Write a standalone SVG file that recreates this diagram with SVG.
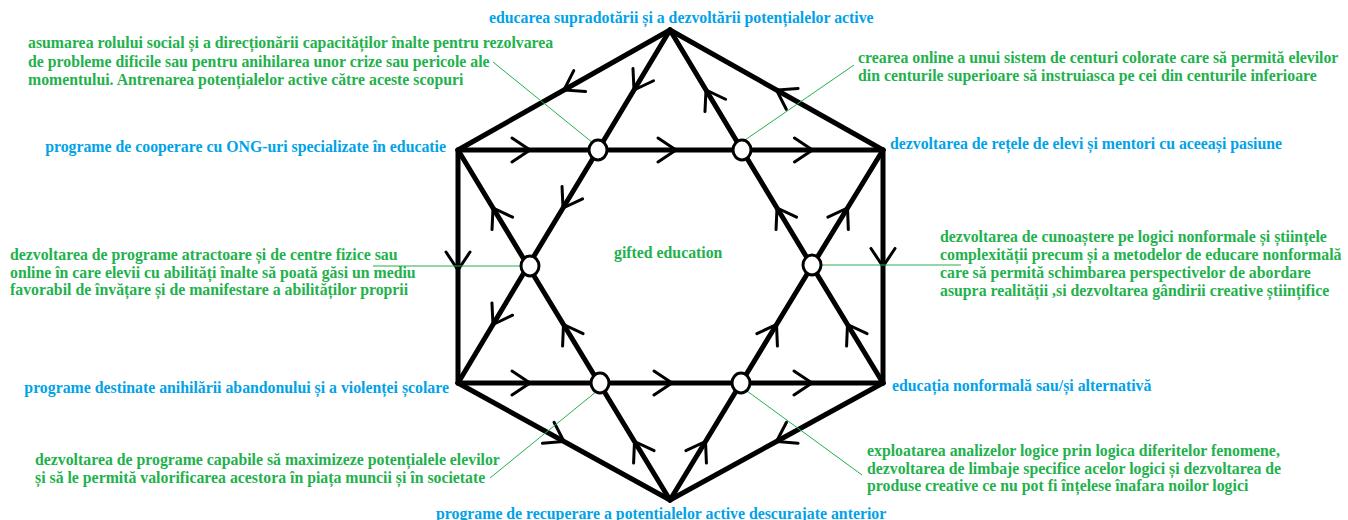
<svg xmlns="http://www.w3.org/2000/svg" width="1348" height="520" viewBox="0 0 1348 520">
<defs>
<style>
.edge{stroke:#000;stroke-width:5;fill:none;stroke-linecap:round;stroke-linejoin:round;marker-mid:url(#arr)}
.lead{stroke:#22b14c;stroke-width:1;fill:none}
.junc{fill:#fff;stroke:#000;stroke-width:3}
text{font-family:"Liberation Serif","Times New Roman",serif;font-weight:bold;font-size:15.8px}
.b{fill:#00a2e8}
.g{fill:#22b14c}
</style>
<marker id="arr" markerUnits="userSpaceOnUse" markerWidth="44" markerHeight="44" refX="20" refY="22" orient="auto" viewBox="0 0 44 44">
<path d="M2 10 L20 22 L2 34" fill="none" stroke="#000" stroke-width="3" stroke-linecap="round" stroke-linejoin="miter"/>
</marker>
</defs>
<rect width="1348" height="520" fill="#fff"/>
<g id="connectors">
<path class="edge" d="M883 150 L776.5 90 L670 30"/>
<path class="edge" d="M670 30 L564 90 L458 150"/>
<path class="edge" d="M458 150 L458 270 L458 383"/>
<path class="edge" d="M458 383 L564 441.5 L670 500"/>
<path class="edge" d="M883 150 L883 266.5 L883 383"/>
<path class="edge" d="M883 383 L776.5 441.5 L670 500"/>
<path class="edge" d="M458 150 L530 150 L598 150"/>
<path class="edge" d="M598 150 L676 150 L742 150"/>
<path class="edge" d="M742 150 L812.5 150 L883 150"/>
<path class="edge" d="M458 383 L530 383 L599 383"/>
<path class="edge" d="M599 383 L672 383 L741 383"/>
<path class="edge" d="M741 383 L812 383 L883 383"/>
<path class="edge" d="M670 30 L634 90 L598 150"/>
<path class="edge" d="M598 150 L563 208 L528 266"/>
<path class="edge" d="M528 266 L493 324.5 L458 383"/>
<path class="edge" d="M742 150 L706 90 L670 30"/>
<path class="edge" d="M812 266 L777 208 L742 150"/>
<path class="edge" d="M883 383 L847.5 324.5 L812 266"/>
<path class="edge" d="M528 266 L493 208 L458 150"/>
<path class="edge" d="M599 383 L563.5 324.5 L528 266"/>
<path class="edge" d="M670 500 L634.5 441.5 L599 383"/>
<path class="edge" d="M812 266 L847.5 208 L883 150"/>
<path class="edge" d="M741 383 L776.5 324.5 L812 266"/>
<path class="edge" d="M670 500 L705.5 441.5 L741 383"/>
<line class="lead" x1="493" y1="62" x2="593" y2="143"/>
<line class="lead" x1="854" y1="65" x2="745" y2="140"/>
<line class="lead" x1="373" y1="266" x2="521" y2="266"/>
<line class="lead" x1="820" y1="265" x2="961" y2="265"/>
<line class="lead" x1="597" y1="391" x2="490" y2="478"/>
<line class="lead" x1="747" y1="391" x2="862" y2="475"/>
</g>
<g id="node-top"><text class="b" x="489" y="23">educarea supradotării și a dezvoltării potențialelor active</text></g>
<g id="node-upper-left"><text class="b" x="446" y="152" text-anchor="end">programe de cooperare cu ONG-uri specializate în educatie</text></g>
<g id="node-upper-right"><text class="b" x="890" y="149">dezvoltarea de rețele de elevi și mentori cu aceeași pasiune</text></g>
<g id="node-lower-left"><text class="b" x="449" y="393" text-anchor="end">programe destinate anihilării abandonului și a violenței școlare</text></g>
<g id="node-lower-right"><text class="b" x="892" y="391">educația nonformală sau/și alternativă</text></g>
<g id="node-bottom"><text class="b" x="436" y="519">programe de recuperare a potențialelor active descurajate anterior</text></g>
<g id="node-center"><text class="g" x="614" y="258">gifted education</text></g>
<g id="node-c1">
<ellipse class="junc" cx="598" cy="150" rx="9" ry="10"/>
<text class="g" x="28" y="48">asumarea rolului social și a direcționării capacităților înalte pentru rezolvarea<tspan x="28" dy="18.5">de probleme dificile sau pentru anihilarea unor crize sau pericole ale</tspan><tspan x="28" dy="18.5">momentului. Antrenarea potențialelor active către aceste scopuri</tspan></text>
</g>
<g id="node-c2">
<ellipse class="junc" cx="742" cy="150" rx="9" ry="10"/>
<text class="g" x="858" y="63">crearea online a unui sistem de centuri colorate care să permită elevilor<tspan x="858" dy="18">din centurile superioare să instruiasca pe cei din centurile inferioare</tspan></text>
</g>
<g id="node-c3">
<ellipse class="junc" cx="530" cy="266" rx="9" ry="10"/>
<text class="g" x="10" y="260">dezvoltarea de programe atractoare și de centre fizice sau<tspan x="10" dy="17.5">online în care elevii cu abilități înalte să poată găsi un mediu</tspan><tspan x="10" dy="17.5">favorabil de învățare și de manifestare a abilităților proprii</tspan></text>
</g>
<g id="node-c4">
<ellipse class="junc" cx="812" cy="265" rx="9" ry="10"/>
<text class="g" x="940" y="242">dezvoltarea de cunoaștere pe logici nonformale și științele<tspan x="940" dy="18">complexității precum și a metodelor de educare nonformală</tspan><tspan x="940" dy="18">care să permită schimbarea perspectivelor de abordare</tspan><tspan x="940" dy="18">asupra realității ,si dezvoltarea gândirii creative științifice</tspan></text>
</g>
<g id="node-c5">
<ellipse class="junc" cx="600" cy="383" rx="9" ry="10"/>
<text class="g" x="35" y="465">dezvoltarea de programe capabile să maximizeze potențialele elevilor<tspan x="35" dy="18">și să le permită valorificarea acestora în piața muncii și în societate</tspan></text>
</g>
<g id="node-c6">
<ellipse class="junc" cx="741" cy="383" rx="9" ry="10"/>
<text class="g" x="867" y="456">exploatarea analizelor logice prin logica diferitelor fenomene,<tspan x="867" dy="17.5">dezvoltarea de limbaje specifice acelor logici și dezvoltarea de</tspan><tspan x="867" dy="17.5">produse creative ce nu pot fi înțelese înafara noilor logici</tspan></text>
</g>
</svg>
